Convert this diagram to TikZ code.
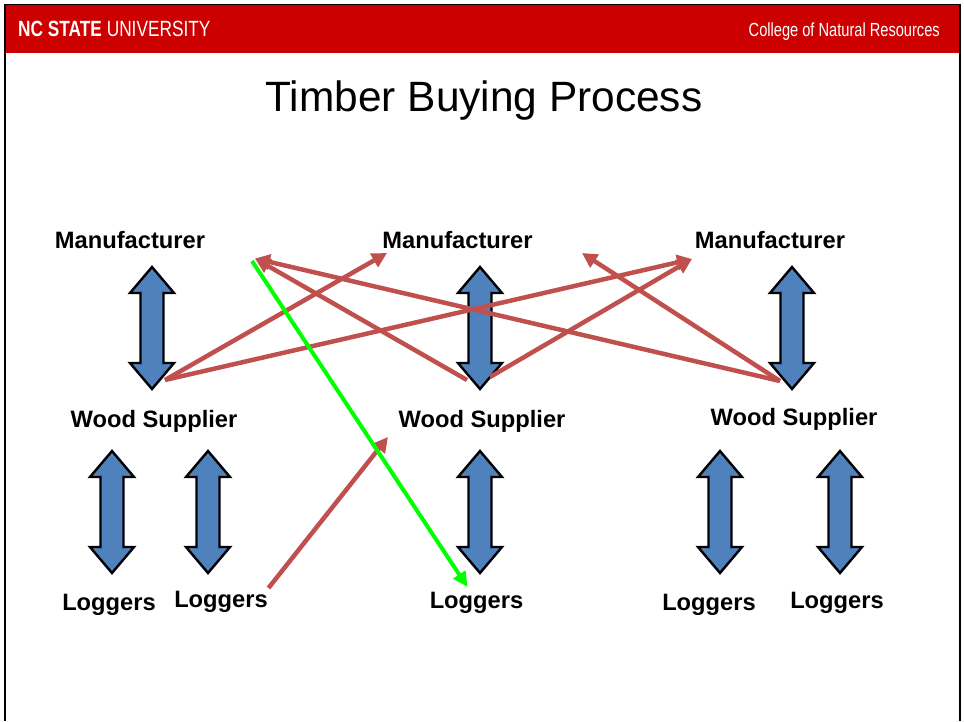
\documentclass[tikz,border=0pt]{standalone}
\usepackage{fontspec}
\setmainfont{Liberation Sans}
\usetikzlibrary{arrows.meta}
\definecolor{ncred}{HTML}{CC0000}
\definecolor{linkred}{HTML}{C0504D}
\definecolor{arrowblue}{HTML}{4F81BD}
\definecolor{brightgreen}{HTML}{00FF00}
\tikzset{
  lbl/.style={anchor=base, inner sep=0pt, font=\fontsize{23.7}{28}\selectfont\bfseries},
  redlink/.style={draw=linkred, line width=4.5pt, -{Triangle[length=15pt,width=15pt]}},
  greenlink/.style={draw=brightgreen, line width=4pt, -{Triangle[length=15pt,width=14pt]}},
  blueshape/.style={fill=arrowblue, draw=black, line width=2.4pt, line join=miter},
  updn/.pic={
    \draw[blueshape] (0,-61) -- (22,-35) -- (11.5,-35) -- (11.5,35) -- (22,35) -- (0,61)
      -- (-22,35) -- (-11.5,35) -- (-11.5,-35) -- (-22,-35) -- cycle;
  }
}
\begin{document}
\begin{tikzpicture}[x=1pt,y=-1pt]
\useasboundingbox (0,0) rectangle (964,721);
% frame and header
\fill[ncred] (6,5) rectangle (959,52.5);
\draw[black, line width=1.8pt] (5,721) -- (5,4.5) -- (960,4.5) -- (960,721);
\node[anchor=base west, inner sep=0pt, text=white, font=\fontsize{22}{25}\selectfont] (hdl) at (18,36.5)
  {\scalebox{0.785}[1]{\textbf{NC STATE} UNIVERSITY}};
\node[anchor=base east, inner sep=0pt, text=white, font=\fontsize{19}{22}\selectfont] (hdr) at (940,36.5)
  {\scalebox{0.77}[1]{College of Natural Resources}};
% title
\node[anchor=base, inner sep=0pt, font=\fontsize{42.4}{50}\selectfont] (title) at (484,111) {Timber Buying Process};
% labels
\node[lbl] (m1) at (130,248.5) {Manufacturer};
\node[lbl] (m2) at (457.5,248.5) {Manufacturer};
\node[lbl] (m3) at (770,248.5) {Manufacturer};
\node[lbl] (w1) at (154,427) {Wood Supplier};
\node[lbl] (w2) at (482,427) {Wood Supplier};
\node[lbl] (w3) at (794,425) {Wood Supplier};
\node[lbl] (l1) at (109,610) {Loggers};
\node[lbl] (l2) at (221,607) {Loggers};
\node[lbl] (l3) at (476.5,608) {Loggers};
\node[lbl] (l4) at (709,610) {Loggers};
\node[lbl] (l5) at (837,608) {Loggers};
% blue double arrows
\pic at (152,328) {updn};
\pic at (480,328) {updn};
\pic at (792,328) {updn};
\pic at (112,512) {updn};
\pic at (208,512) {updn};
\pic at (480,512) {updn};
\pic at (720,512) {updn};
\pic at (840,512) {updn};
% connector end points
\coordinate (w1out) at (165,380);
\coordinate (w2outa) at (467,380);
\coordinate (w2outb) at (490,377);
\coordinate (w3out) at (780,381);
\coordinate (m1in) at (255,258.5);
\coordinate (m2ina) at (387,253);
\coordinate (m2inb) at (582,253);
\coordinate (m3in) at (692,259);
\coordinate (l2out) at (268.5,588);
\coordinate (w2in) at (388,437);
\coordinate (gstart) at (252,261);
\coordinate (gend) at (467.5,587);
% red connectors
\draw[redlink] (w1out) -- (m2ina);
\draw[redlink] (w1out) -- (m3in);
\draw[redlink] (w2outa) -- (m1in);
\draw[redlink] (w3out) -- (m1in);
\draw[redlink] (w2outb) -- (m3in);
\draw[redlink] (w3out) -- (m2inb);
\draw[redlink] (l2out) -- (w2in);
% green connector
\draw[greenlink] (gstart) -- (gend);
\end{tikzpicture}
\end{document}
